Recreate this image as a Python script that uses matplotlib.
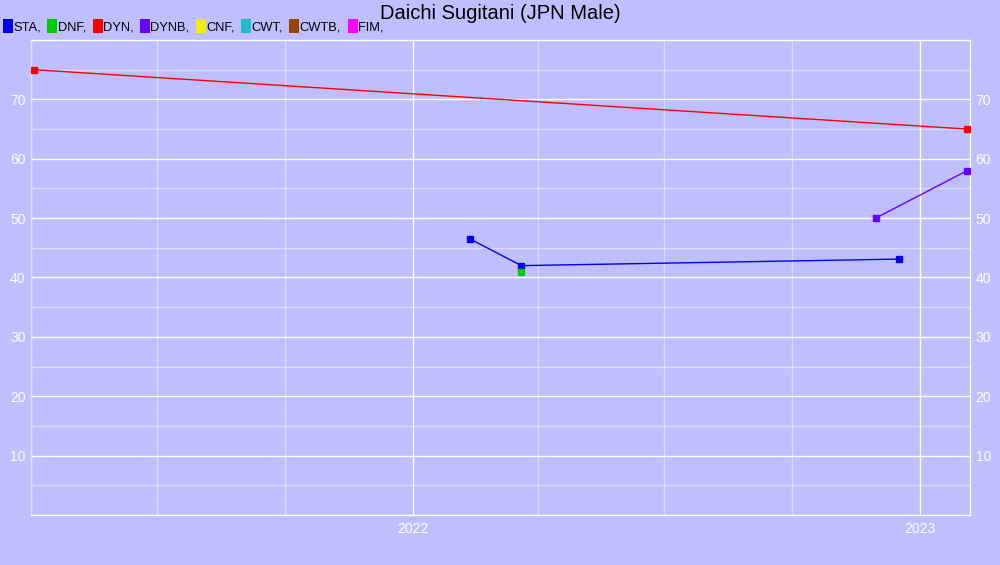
import matplotlib
matplotlib.use("Agg")
import matplotlib.pyplot as plt
import matplotlib.dates as mdates
from matplotlib.lines import Line2D
import datetime as dt

plt.rcParams['font.family'] = ['Liberation Sans', 'DejaVu Sans']

title = "Daichi Sugitani (JPN Male)"
legend_names = ["STA", "DNF", "DYN", "DYNB", "CNF", "CWT", "CWTB", "FIM"]
legend_colors = ["#0000ee", "#00cc00", "#ff0000", "#6600ff", "#eeee00", "#22bbcc", "#994400", "#ff00ff"]

sta_dates = ["2022-02-11", "2022-03-20", "2022-12-17"]
sta_values = [46.5, 42.0, 43.1]
dnf_dates = ["2022-03-20"]
dnf_values = [41.0]
dyn_dates = ["2021-04-03", "2023-02-04"]
dyn_values = [75.0, 65.0]
dynb_dates = ["2022-11-30", "2023-02-04"]
dynb_values = [50.0, 58.0]

series = [
    ("STA", sta_dates, sta_values, "#0000ee"),
    ("DNF", dnf_dates, dnf_values, "#00cc00"),
    ("DYN", dyn_dates, dyn_values, "#ff0000"),
    ("DYNB", dynb_dates, dynb_values, "#6600ff"),
]

bg = "#bfbfff"
fig = plt.figure(figsize=(10, 5.65), dpi=100, facecolor=bg)
ax = fig.add_axes([0.031, 0.0885, 0.939, 0.8407], facecolor=bg)

for name, ds, vs, c in series:
    xs = [dt.datetime.strptime(d, "%Y-%m-%d") for d in ds]
    ax.plot(xs, vs, color=c, lw=1, marker="s", ms=4, zorder=3)

ax.set_xlim(dt.datetime(2021, 4, 1), dt.datetime(2023, 2, 6))
ax.set_ylim(0, 80)
ax.yaxis.set_major_locator(matplotlib.ticker.MultipleLocator(10))
ax.yaxis.set_minor_locator(matplotlib.ticker.MultipleLocator(5))
ax.xaxis.set_major_locator(mdates.YearLocator())
ax.xaxis.set_major_formatter(mdates.DateFormatter("%Y"))
ax.xaxis.set_minor_locator(mdates.MonthLocator(bymonth=[1, 4, 7, 10]))

ax.grid(which="major", color="white", lw=1)
ax.grid(which="minor", color="white", lw=1, alpha=0.45)
ax.set_axisbelow(True)
for s in ax.spines.values():
    s.set_color("white")
    s.set_linewidth(1)
ax.spines['left'].set_color("#e0e0ff")

ax.tick_params(which="both", length=0, colors="white", labelsize=10)
ax.tick_params(axis="y", labelright=True, right=False, pad=4)
ax.tick_params(axis="x", pad=5)
ax.set_yticks([10, 20, 30, 40, 50, 60, 70])

fig.text(0.5, 0.976, title, ha="center", va="center", fontsize=14.5, color="black")

rect = [(-0.35, -0.5), (0.35, -0.5), (0.35, 0.5), (-0.35, 0.5), (-0.35, -0.5)]
handles = [Line2D([], [], ls="none", marker=rect, ms=10, color=c, mew=0) for c in legend_colors]
labels = [n + "," for n in legend_names]
fig.legend(handles, labels, loc="center left", bbox_to_anchor=(0.004, 0.951), ncol=8,
           frameon=False, fontsize=9.3, handlelength=0.6, handletextpad=0.1,
           columnspacing=0.6, borderpad=0.0, borderaxespad=0)

fig.savefig("out.png", dpi=100, facecolor=bg)
